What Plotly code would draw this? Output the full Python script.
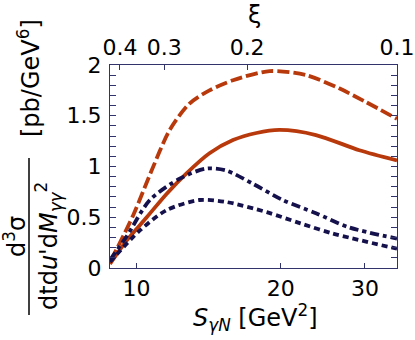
import plotly.graph_objects as go
import math

# ---- data ----
s_orange_dashed = [8.83, 9.84, 10.75, 11.73, 12.9, 14.2, 15.9, 18.97, 22.6, 26.5, 30.0, 35.0]
y_orange_dashed = [0.07, 0.52, 0.96, 1.36, 1.62, 1.75, 1.85, 1.94, 1.90, 1.77, 1.64, 1.47]

s_orange_solid = [8.8, 9.53, 10.5, 11.55, 12.7, 14.2, 15.9, 17.8, 19.9, 23.7, 29.2, 35.0]
y_orange_solid = [0.04, 0.27, 0.50, 0.73, 0.93, 1.13, 1.26, 1.33, 1.36, 1.31, 1.16, 1.06]

s_navy_dashdot = [8.8, 9.53, 10.66, 12.3, 13.99, 15.4, 17.5, 20.2, 23.7, 27.8, 35.0]
y_navy_dashdot = [0.08, 0.31, 0.67, 0.88, 0.98, 0.96, 0.83, 0.67, 0.54, 0.40, 0.29]

s_navy_dotted = [8.8, 10.16, 11.55, 13.55, 15.4, 18.7, 22.0, 25.7, 35.0]
y_navy_dotted = [0.06, 0.37, 0.57, 0.67, 0.65, 0.55, 0.44, 0.34, 0.19]

x_tick_vals = [10, 20, 30]
x_tick_text = ["10", "20", "30"]
xi_tick_S = [9.23, 11.43, 17.02, 35.0]
xi_tick_text = ["0.4", "0.3", "0.2", "0.1"]
y_tick_vals = [0, 0.5, 1, 1.5, 2]
y_tick_text = ["0", "0.5", "1", "1.5", "2"]

S_MIN, S_MAX = 8.8, 35.0

ORANGE = "#b8390b"
NAVY = "#15114c"
FRAME = "#33336b"
FONT = "DejaVu Sans"
FS = 22

fig = go.Figure()
fig.add_trace(go.Scatter(x=s_orange_dashed, y=y_orange_dashed, mode="lines",
                         line=dict(color=ORANGE, width=3.8, dash="12px,4px", shape="spline",
                                   smoothing=0.8)))
fig.add_trace(go.Scatter(x=s_orange_solid, y=y_orange_solid, mode="lines",
                         line=dict(color=ORANGE, width=3.8, shape="spline", smoothing=0.8)))
fig.add_trace(go.Scatter(x=s_navy_dashdot, y=y_navy_dashdot, mode="lines",
                         line=dict(color=NAVY, width=3.8, dash="9px,4px,4px,4px", shape="spline",
                                   smoothing=0.8)))
fig.add_trace(go.Scatter(x=s_navy_dotted, y=y_navy_dotted, mode="lines",
                         line=dict(color=NAVY, width=3.8, dash="6px,4px", shape="spline",
                                   smoothing=0.8)))
# invisible trace to activate top axis
fig.add_trace(go.Scatter(x=[S_MIN, S_MAX], y=[0, 0], xaxis="x2", mode="lines",
                         line=dict(width=0), hoverinfo="skip", showlegend=False))

rng = [math.log10(S_MIN), math.log10(S_MAX)]
L, R, T, B = 110, 18, 65, 72
W, H = 415, 340
pw, ph = W - L - R, H - T - B

def px(xp):
    return (xp - L) / pw

def py(yp):
    return (H - B - yp) / ph

fig.update_layout(
    width=W, height=H,
    margin=dict(l=L, r=R, t=T, b=B),
    paper_bgcolor="white", plot_bgcolor="white",
    showlegend=False,
    font=dict(family=FONT, size=FS, color="black"),
    xaxis=dict(type="log", range=rng, tickvals=x_tick_vals, ticktext=x_tick_text,
               ticks="inside", ticklen=5, tickcolor=FRAME, showline=True, linecolor=FRAME,
               linewidth=1.2, showgrid=False, zeroline=False, automargin=False),
    xaxis2=dict(type="log", range=rng, overlaying="x", side="top",
                tickvals=xi_tick_S, ticktext=xi_tick_text,
                ticks="inside", ticklen=5, tickcolor=FRAME, showline=True, linecolor=FRAME,
                linewidth=1.2, showgrid=False, zeroline=False, automargin=False),
    yaxis=dict(range=[0, 2], tickvals=y_tick_vals, ticktext=y_tick_text,
               ticks="inside", ticklen=6, tickcolor=FRAME, showline=True, mirror="allticks",
               linecolor=FRAME, linewidth=1.2, showgrid=False, zeroline=False,
               minor=dict(dtick=0.1, ticks="inside", ticklen=3, tickcolor=FRAME),
               ticklabelstandoff=3, automargin=False),
)

AFS = 24
fig.add_annotation(text="ξ", xref="paper", yref="paper", x=px(254), y=py(15),
                   xanchor="center", yanchor="middle", showarrow=False,
                   font=dict(family=FONT, size=AFS))
fig.add_annotation(text="<i>S</i><sub><i>γN</i></sub> [GeV<sup>2</sup>]", xref="paper",
                   yref="paper", x=px(255), y=py(317), xanchor="center", yanchor="middle",
                   showarrow=False, font=dict(family=FONT, size=AFS))
fig.add_annotation(text="[pb/GeV<sup>6</sup>]", textangle=-90, xref="paper", yref="paper",
                   x=px(29), y=py(78), xanchor="center", yanchor="middle", showarrow=False,
                   font=dict(family=FONT, size=AFS))
fig.add_annotation(text="d<sup>3</sup>σ", textangle=-90, xref="paper", yref="paper",
                   x=px(15), y=py(237), xanchor="center", yanchor="middle", showarrow=False,
                   font=dict(family=FONT, size=AFS))
fig.add_annotation(text="dtd<i>u</i>'d<i>M</i><sub><i>γγ</i></sub><sup>2</sup>", textangle=-90,
                   xref="paper", yref="paper",
                   x=px(48), y=py(246), xanchor="center", yanchor="middle", showarrow=False,
                   font=dict(family=FONT, size=AFS))
fig.add_shape(type="line", xref="paper", yref="paper", x0=px(29), x1=px(29),
              y0=py(158), y1=py(315), line=dict(color="black", width=1.5))

fig.write_html("out.html", config={"displayModeBar": False},
               post_script="document.body.style.margin='0';")
